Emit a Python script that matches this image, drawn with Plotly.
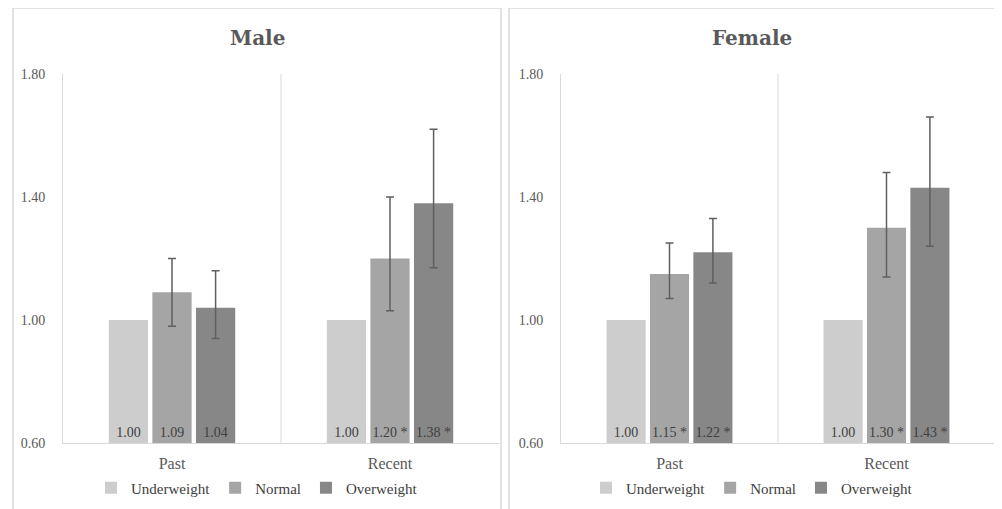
import plotly.graph_objects as go

categories = ["Past", "Recent"]
groups = ["Underweight", "Normal", "Overweight"]
colors = ["#cdcdcd", "#a5a5a5", "#878787"]

male_values = {"Underweight": [1.00, 1.00], "Normal": [1.09, 1.20], "Overweight": [1.04, 1.38]}
male_lower = {"Underweight": [None, None], "Normal": [0.98, 1.03], "Overweight": [0.94, 1.17]}
male_upper = {"Underweight": [None, None], "Normal": [1.20, 1.40], "Overweight": [1.16, 1.62]}
male_labels = {"Underweight": ["1.00", "1.00"], "Normal": ["1.09", "1.20 *"], "Overweight": ["1.04", "1.38 *"]}

female_values = {"Underweight": [1.00, 1.00], "Normal": [1.15, 1.30], "Overweight": [1.22, 1.43]}
female_lower = {"Underweight": [None, None], "Normal": [1.07, 1.14], "Overweight": [1.12, 1.24]}
female_upper = {"Underweight": [None, None], "Normal": [1.25, 1.48], "Overweight": [1.33, 1.66]}
female_labels = {"Underweight": ["1.00", "1.00"], "Normal": ["1.15 *", "1.30 *"], "Overweight": ["1.22 *", "1.43 *"]}

y_ticks = [0.60, 1.00, 1.40, 1.80]
y_min, y_max = 0.60, 1.80
panel_titles = ["Male", "Female"]

W, H = 1002, 509
OX, OY = 8, 8  # page body margin offset


def px(x):
    return (x - OX) / W


def py(y):
    return 1 - (y - OY) / H


fig = go.Figure()

panels = [
    ("x", "y", "legend", male_values, male_lower, male_upper, male_labels),
    ("x2", "y2", "legend2", female_values, female_lower, female_upper, female_labels),
]

for xa, ya, leg, vals, low, up, labs in panels:
    for g, c in zip(groups, colors):
        v = vals[g]
        has_err = any(u is not None for u in up[g])
        if has_err:
            plus = [u - vv for u, vv in zip(up[g], v)]
            minus = [vv - l for l, vv in zip(low[g], v)]
            err = dict(type="data", symmetric=False, array=plus, arrayminus=minus,
                       color="#5f5f5f", thickness=1.5, width=4, visible=True)
        else:
            err = dict(visible=False)
        fig.add_trace(go.Bar(
            x=categories, y=[vv - y_min for vv in v], base=y_min,
            name=g, xaxis=xa, yaxis=ya, legend=leg,
            marker=dict(color=c, line=dict(width=0)),
            text=labs[g], textposition="inside", insidetextanchor="start",
            textangle=0, constraintext="none",
            textfont=dict(family="Liberation Serif", size=14, color="#404040"),
            error_y=err,
            hoverinfo="skip",
        ))

grid = "#d9d9d9"
tickfont = dict(family="Liberation Serif", size=14, color="#595959")
xdom = [[px(63), px(499)], [px(561), px(995)]]
ydom = [py(443), py(74)]

common_x = dict(type="category", range=[-0.5, 1.5], showline=True, linecolor=grid, linewidth=1,
                showgrid=False, ticks="", ticklabelstandoff=6, automargin=False,
                tickfont=dict(family="Liberation Serif", size=16, color="#595959"))
common_y = dict(range=[y_min, y_max], tickvals=y_ticks, tickformat=".2f", showgrid=False,
                zeroline=False, showline=True, linecolor=grid, linewidth=1, ticks="",
                ticklabelstandoff=14, automargin=False, tickfont=tickfont)

legend_common = dict(orientation="h", y=py(488), xanchor="center", yanchor="middle",
                     font=dict(family="Liberation Serif", size=15, color="#404040"),
                     itemwidth=30, bgcolor="rgba(0,0,0,0)")

fig.update_layout(
    width=W, height=H,
    margin=dict(l=0, r=0, t=0, b=0, pad=0, autoexpand=False),
    paper_bgcolor="white", plot_bgcolor="white",
    barmode="group", bargap=0.4, bargroupgap=0.1,
    xaxis=dict(domain=xdom[0], anchor="y", **common_x),
    yaxis=dict(domain=ydom, anchor="x", **common_y),
    xaxis2=dict(domain=xdom[1], anchor="y2", **common_x),
    yaxis2=dict(domain=ydom, anchor="x2", **common_y),
    legend=dict(x=px(257), **legend_common),
    legend2=dict(x=px(752), **legend_common),
    showlegend=True,
)

# panel borders and category separators
shapes = []
for x0, x1 in [(13, 501), (509, 996)]:
    shapes.append(dict(type="rect", xref="paper", yref="paper", x0=px(x0), x1=px(x1),
                       y0=-0.1, y1=py(8), line=dict(color=grid, width=1.5), layer="below"))
for xa, ya in [("x", "y"), ("x2", "y2")]:
    shapes.append(dict(type="line", xref=xa, yref=ya + " domain", x0=0.5, x1=0.5, y0=0, y1=1,
                       line=dict(color=grid, width=1), layer="below"))
fig.update_layout(shapes=shapes)

for t, cx in zip(panel_titles, [257, 752]):
    fig.add_annotation(text="<b>" + t + "</b>", xref="paper", yref="paper", x=px(cx), y=py(38),
                       xanchor="center", yanchor="middle", showarrow=False,
                       font=dict(family="DejaVu Serif", size=20, color="#595959"))

fig.write_html("out.html")
